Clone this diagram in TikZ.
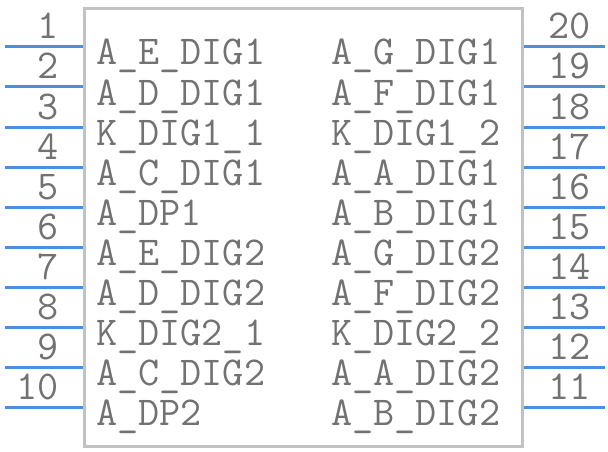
\documentclass[tikz,border=0pt]{standalone}
\usepackage{fontspec}
\definecolor{boxgray}{HTML}{C2C2C2}
\definecolor{pinblue}{HTML}{4A90E2}
\definecolor{txtgray}{HTML}{727272}
\tikzset{
  pinline/.style={draw=pinblue, line width=3pt},
  lbl/.style={font=\fontsize{41}{41}\ttfamily, text=txtgray, inner sep=0pt},
  body/.style={draw=boxgray, line width=3pt}
}
\begin{document}
\begin{tikzpicture}[x=1pt,y=-1pt]
\useasboundingbox (0,0) rectangle (608,452);
\draw[body] (84.5,8.5) rectangle (522.5,446.5);
\foreach \n [count=\i from 0] in {1,...,10}{
  \coordinate (L\n a) at (5,47+40*\i);
  \coordinate (L\n b) at (83,47+40*\i);
  \draw[pinline] (L\n a) -- (L\n b);
  \node[lbl, anchor=base east] (N\n) at (59,39+40*\i) {\n};
}
\foreach \n [count=\i from 0] in {20,19,...,11}{
  \coordinate (R\n a) at (524,47+40*\i);
  \coordinate (R\n b) at (605,47+40*\i);
  \draw[pinline] (R\n a) -- (R\n b);
  \node[lbl, anchor=base west] (N\n) at (548,39+40*\i) {\n};
}
\foreach \t [count=\i from 0] in {A\_E\_DIG1,A\_D\_DIG1,K\_DIG1\_1,A\_C\_DIG1,A\_DP1,A\_E\_DIG2,A\_D\_DIG2,K\_DIG2\_1,A\_C\_DIG2,A\_DP2}{
  \node[lbl, anchor=base west] (LL\i) at (96,65+40*\i) {\t};
}
\foreach \t [count=\i from 0] in {A\_G\_DIG1,A\_F\_DIG1,K\_DIG1\_2,A\_A\_DIG1,A\_B\_DIG1,A\_G\_DIG2,A\_F\_DIG2,K\_DIG2\_2,A\_A\_DIG2,A\_B\_DIG2}{
  \node[lbl, anchor=base west] (RL\i) at (331,65+40*\i) {\t};
}
\end{tikzpicture}
\end{document}
